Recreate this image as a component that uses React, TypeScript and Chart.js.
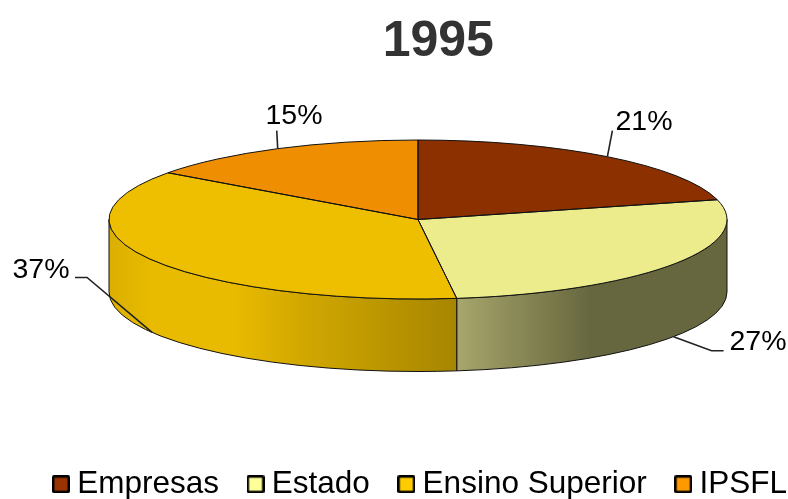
import React, { useEffect, useRef } from "react";
import { Chart, registerables } from "chart.js";

Chart.register(...registerables);

const titleText = "1995";
const categories = ["Empresas", "Estado", "Ensino Superior", "IPSFL"];
const shares = [21, 27, 37, 15];
const topColors = ["#8C3000", "#EDEC8D", "#EDBF00", "#EE8E00"];
const legendColors = ["#993300", "#FFFF99", "#FFCC00", "#FF9900"];
const wallStops: ([number, string][] | null)[] = [
  null,
  [[0.567, "#A6A56B"], [0.66, "#8A8956"], [0.78, "#66673F"], [1, "#66673F"]],
  [[0, "#DBAF00"], [0.07, "#E8BA00"], [0.2, "#E9BB00"], [0.31, "#D2A800"], [0.567, "#A68500"]],
  null,
];
// leader elbows relative to the slice's rim point, and label centres
const leaderOffsets = [
  [[5, -26]],
  [[38, 14], [50, 14]],
  [[-65, -55], [-77, -55]],
  [[-1, -18]],
];
const labelCentres = [
  [644, 122],
  [758, 342],
  [41, 270],
  [294, 116],
];

const PIE = { cx: 418, cy: 219.5, rx: 309, ry: 79.5, depth: 72.5 };

function marker(color: string) {
  const c = document.createElement("canvas");
  c.width = 18;
  c.height = 18;
  const g = c.getContext("2d")!;
  g.fillStyle = "#000";
  g.beginPath();
  g.roundRect(0, 0, 18, 18, 2);
  g.fill();
  g.fillStyle = color;
  g.fillRect(2.5, 2.5, 13, 13);
  return c;
}

const pie3d = {
  id: "pie3d",
  beforeDatasetsDraw(chart: any) {
    const ctx = chart.ctx;
    const arcs = chart.getDatasetMeta(0).data;
    const { cx, cy, rx, ry, depth } = PIE;
    ctx.save();
    arcs.forEach((arc: any, i: number) => {
      const stops = wallStops[i];
      const a1 = Math.max(arc.startAngle, 0);
      const a2 = Math.min(arc.endAngle, Math.PI);
      if (!stops || a2 <= a1) return;
      const grad = ctx.createLinearGradient(cx - rx, 0, cx + rx, 0);
      stops.forEach(([p, c]) => grad.addColorStop(p, c));
      ctx.beginPath();
      ctx.ellipse(cx, cy, rx, ry, 0, a1, a2);
      ctx.ellipse(cx, cy + depth, rx, ry, 0, a2, a1, true);
      ctx.closePath();
      ctx.fillStyle = grad;
      ctx.fill();
      ctx.strokeStyle = "#111";
      ctx.lineWidth = 1;
      ctx.stroke();
    });
    ctx.restore();
    const a = arcs[0];
    const R = a.outerRadius;
    ctx.save();
    ctx.translate(cx, cy);
    ctx.scale(rx / R, ry / R);
    ctx.translate(-a.x, -a.y);
  },
  afterDatasetsDraw(chart: any) {
    const ctx = chart.ctx;
    ctx.restore();
    const arcs = chart.getDatasetMeta(0).data;
    const { cx, cy, rx, ry, depth } = PIE;
    ctx.save();
    ctx.strokeStyle = "#111";
    ctx.lineWidth = 1;
    arcs.forEach((arc: any) => {
      ctx.beginPath();
      ctx.moveTo(cx, cy);
      ctx.ellipse(cx, cy, rx, ry, 0, arc.startAngle, arc.endAngle);
      ctx.closePath();
      ctx.stroke();
    });
    ctx.font = "28.5px 'Liberation Sans', Arial, sans-serif";
    ctx.fillStyle = "#000";
    ctx.textAlign = "center";
    ctx.textBaseline = "middle";
    arcs.forEach((arc: any, i: number) => {
      const mid = (arc.startAngle + arc.endAngle) / 2;
      const x = cx + rx * Math.cos(mid);
      const y = cy + ry * Math.sin(mid) + (Math.sin(mid) > 0 ? depth : 0);
      ctx.beginPath();
      ctx.moveTo(x, y);
      leaderOffsets[i].forEach(([dx, dy]) => ctx.lineTo(x + dx, y + dy));
      ctx.strokeStyle = "#222";
      ctx.lineWidth = 1.6;
      ctx.stroke();
      ctx.fillText(`${shares[i]}%`, labelCentres[i][0], labelCentres[i][1]);
    });
    ctx.restore();
  },
};

export default function App() {
  const ref = useRef<HTMLCanvasElement>(null);
  useEffect(() => {
    const chart = new Chart(ref.current!, {
      type: "pie",
      data: {
        labels: categories,
        datasets: [
          {
            data: shares,
            backgroundColor: topColors,
            borderWidth: 0,
            clip: false,
          } as any,
        ],
      },
      plugins: [pie3d],
      options: {
        responsive: false,
        animation: false,
        layout: { padding: { left: 24.5 } },
        plugins: {
          tooltip: { enabled: false },
          title: {
            display: true,
            text: titleText,
            color: "#333",
            font: { family: "'Liberation Sans', Arial, sans-serif", size: 50, weight: "bold" },
            padding: { top: 12, bottom: 8 },
          },
          legend: {
            position: "bottom",
            align: "start",
            labels: {
              color: "#000",
              font: { family: "'Liberation Sans', Arial, sans-serif", size: 31.5 },
              usePointStyle: true,
              boxWidth: 1,
              padding: 36,
              generateLabels: () =>
                categories.map((text, i) => ({
                  text,
                  index: i,
                  datasetIndex: 0,
                  hidden: false,
                  fontColor: "#000",
                  pointStyle: marker(legendColors[i]),
                })),
            },
          },
        },
      },
    } as any);
    return () => chart.destroy();
  }, []);
  return (
    <div style={{ position: "absolute", left: 0, top: 0, width: 788, height: 499, overflow: "hidden", background: "#fff" }}>
      <canvas ref={ref} width={852} height={510} style={{ display: "block" }} />
    </div>
  );
}
